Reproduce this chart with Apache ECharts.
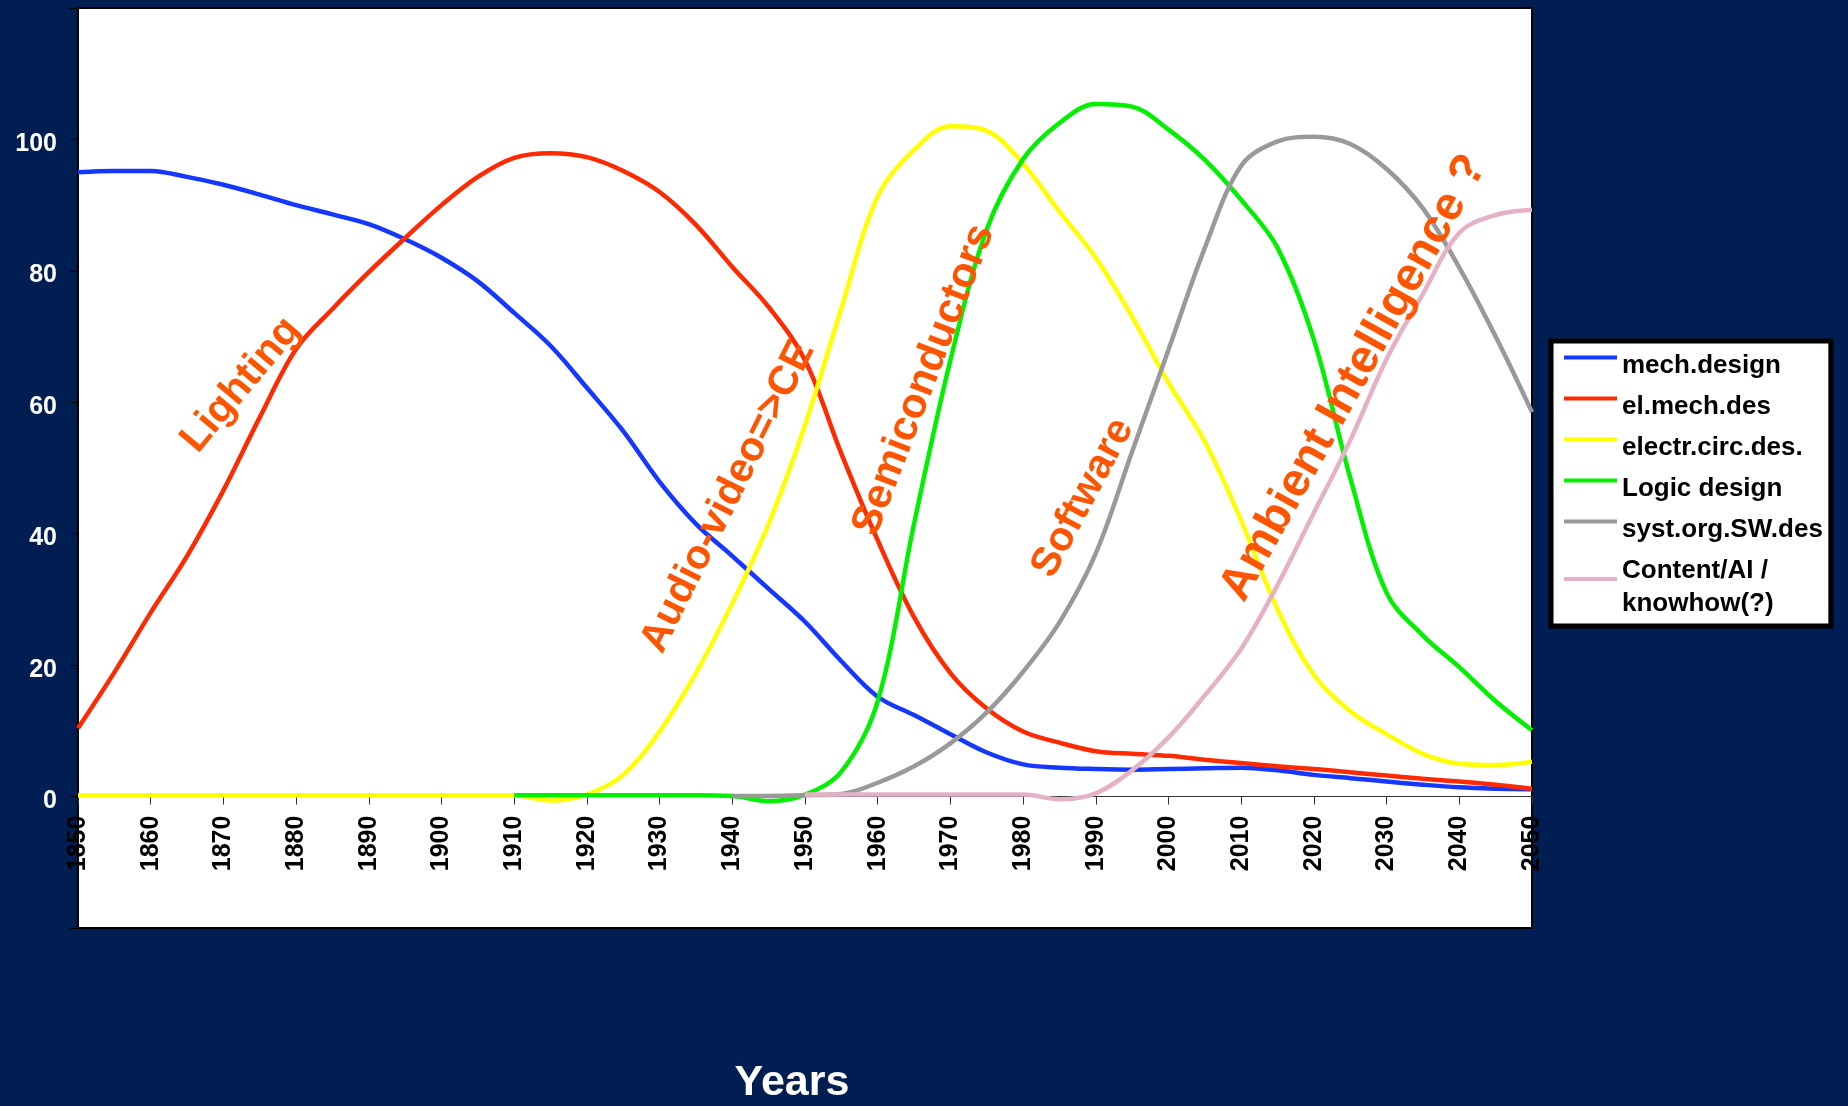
<!DOCTYPE html>
<html>
<head>
<meta charset="utf-8">
<title>Design disciplines over time</title>
<script src="https://cdn.jsdelivr.net/npm/echarts@6/dist/echarts.min.js"></script>
<style>
  html, body { margin: 0; padding: 0; background: #001e52; }
  #chart { width: 1848px; height: 1106px; }
</style>
</head>
<body>
<div id="chart"></div>
<script>
// years sampled every 5 years
const YEARS = [1850, 1855, 1860, 1865, 1870, 1875, 1880, 1885, 1890, 1895,
  1900, 1905, 1910, 1915, 1920, 1925, 1930, 1935, 1940, 1945,
  1950, 1955, 1960, 1965, 1970, 1975, 1980, 1985, 1990, 1995,
  2000, 2005, 2010, 2015, 2020, 2025, 2030, 2035, 2040, 2045, 2050];

const SERIES_NAMES = ["mech.design", "el.mech.des", "electr.circ.des.", "Logic design",
  "syst.org.SW.des", "Content/AI /\nknowhow(?)"];

const mechDesign = [95.0, 95.2, 95.2, 94.3, 93.1, 91.6, 90.0, 88.6, 87.1, 84.8,
  82.0, 78.4, 73.6, 68.6, 62.2, 55.6, 47.9, 41.5, 36.6, 31.6,
  26.6, 20.6, 15.2, 12.4, 9.5, 6.7, 4.9, 4.4, 4.2, 4.1,
  4.2, 4.3, 4.4, 4.0, 3.3, 2.8, 2.3, 1.8, 1.4, 1.2, 1.1];

const elMechDes = [10.4, 18.9, 28.0, 36.6, 46.6, 57.7, 68.1, 74.2, 79.8, 85.0,
  90.0, 94.3, 97.2, 97.9, 97.3, 95.2, 92.0, 87.0, 80.6, 74.5,
  66.4, 52.2, 39.0, 27.3, 18.8, 13.4, 9.9, 8.2, 6.9, 6.5,
  6.2, 5.6, 5.1, 4.6, 4.2, 3.7, 3.2, 2.7, 2.3, 1.8, 1.2];

const electrCircDes = [0.2, 0.2, 0.2, 0.2, 0.2, 0.2, 0.2, 0.2, 0.2, 0.2,
  0.2, 0.2, 0.2, -0.6, 0.3, 3.3, 9.9, 18.8, 29.4, 41.5,
  56.5, 74.3, 91.3, 98.4, 102.0, 101.3, 96.3, 89.0, 82.0, 73.0,
  63.0, 54.0, 42.0, 28.5, 18.5, 13.0, 9.5, 6.5, 5.0, 4.8, 5.3];

const logicDesign = [null, null, null, null, null, null, null, null, null, null,
  null, null, 0.2, 0.2, 0.2, 0.2, 0.2, 0.2, 0.1, -0.7,
  0.3, 3.8, 14.5, 41.5, 66.4, 86.3, 97.0, 102.5, 105.4, 105.0,
  101.5, 96.9, 90.8, 83.5, 69.5, 48.5, 31.0, 24.5, 19.7, 14.5, 10.1];

const systOrgSW = [null, null, null, null, null, null, null, null, null, null,
  null, null, null, null, null, null, null, null, 0.1, 0.1,
  0.2, 0.4, 2.1, 4.6, 8.1, 12.8, 19.0, 26.5, 37.0, 52.5,
  68.0, 83.5, 96.0, 99.7, 100.4, 99.3, 95.5, 89.5, 80.5, 70.0, 58.5];

const contentAI = [null, null, null, null, null, null, null, null, null, null,
  null, null, null, null, null, null, null, null, null, null,
  0.3, 0.3, 0.3, 0.3, 0.3, 0.3, 0.3, -0.4, 0.5, 4.0,
  9.0, 15.4, 22.5, 32.2, 43.2, 54.2, 66.6, 76.5, 85.8, 88.5, 89.3];

const Y_TICKS = [0, 20, 40, 60, 80, 100];

// era labels drawn over the plot
const ERAS = [
  { text: "Lighting", x: 241, y: 385, angle: 50, size: 41 },
  { text: "Audio-video=>CE", x: 728, y: 497, angle: 63.5, size: 41 },
  { text: "Semiconductors", x: 924, y: 380, angle: 69, size: 42 },
  { text: "Software", x: 1083, y: 498, angle: 62, size: 41 },
  { text: "Ambient Intelligence ?", x: 1354, y: 378, angle: 61, size: 47 },
];

const COLORS = ["#1438ff", "#ff2a00", "#ffff00", "#00f000", "#999999", "#e4b1c6"];
const FONT = "'Liberation Sans', Arial, sans-serif";

function pairs(values) {
  const out = [];
  values.forEach((v, i) => {
    if (v !== null) out.push([YEARS[i], v]);
  });
  return out;
}

const seriesValues = [mechDesign, elMechDes, electrCircDes, logicDesign, systOrgSW, contentAI];

const chart = echarts.init(document.getElementById("chart"));

const gridTop = 8;
const gridBottom = 178;
const plotHeight = 1106 - gridTop - gridBottom;
// x axis sits on the value 0 line, 20 units above the bottom of the plot box
const zeroOffset = -plotHeight * 20 / 140;

const option = {
  backgroundColor: "#001e52",
  animation: false,
  grid: {
    left: 78,
    right: 316,
    top: gridTop,
    bottom: gridBottom,
    outerBoundsMode: "none",
    show: true,
    backgroundColor: "#ffffff",
    borderColor: "#000000",
    borderWidth: 2,
  },
  legend: {
    orient: "vertical",
    left: 1551,
    top: 341,
    padding: [8, 8, 6, 13],
    itemGap: 8,
    itemWidth: 53,
    itemHeight: 20,
    icon: "path://M0,0H53V4H0Z M0,20L53,20",
    itemStyle: { borderWidth: 0 },
    backgroundColor: "#ffffff",
    borderColor: "#000000",
    borderWidth: 5,
    data: SERIES_NAMES,
    textStyle: {
      color: "#000000",
      fontSize: 26,
      fontWeight: "bold",
      fontFamily: FONT,
      lineHeight: 33,
    },
  },
  xAxis: {
    type: "value",
    min: 1850,
    max: 2050,
    interval: 10,
    offset: zeroOffset,
    name: "Years",
    nameLocation: "middle",
    nameGap: 265,
    nameMoveOverlap: false,
    nameTextStyle: {
      color: "#ffffff",
      fontSize: 43,
      fontWeight: "bold",
      fontFamily: FONT,
      padding: [0, 26, 0, 0],
    },
    splitLine: { show: false },
    axisLine: { onZero: false, lineStyle: { color: "#333333", width: 1 } },
    axisTick: { show: true, length: 8, lineStyle: { color: "#333333" } },
    axisLabel: {
      rotate: 90,
      margin: 19,
      color: "#000000",
      fontSize: 25,
      fontWeight: "bold",
      fontFamily: FONT,
      showMinLabel: true,
      showMaxLabel: true,
      formatter: (v) => String(v),
    },
  },
  yAxis: {
    type: "value",
    min: -20,
    max: 120,
    interval: 20,
    splitLine: { show: false },
    axisLine: { show: true, onZero: false, lineStyle: { color: "#000000", width: 2 } },
    axisTick: { show: true, length: 8, lineStyle: { color: "#000000" } },
    axisLabel: {
      margin: 21,
      verticalAlign: "top",
      lineHeight: 9,
      color: "#ffffff",
      fontSize: 25,
      fontWeight: "bold",
      fontFamily: FONT,
      formatter: (v) => (Y_TICKS.indexOf(v) >= 0 ? String(v) : ""),
    },
  },
  series: SERIES_NAMES.map((name, i) => ({
    name: name,
    type: "line",
    smooth: 0.35,
    showSymbol: false,
    color: COLORS[i],
    lineStyle: { width: 4.5, color: COLORS[i] },
    data: pairs(seriesValues[i]),
    z: 2 + i,
  })),
  graphic: ERAS.map((e) => ({
    type: "text",
    x: e.x,
    y: e.y,
    rotation: (e.angle * Math.PI) / 180,
    z: 100,
    style: {
      text: e.text,
      fill: "#ff5500",
      font: "bold " + e.size + "px " + FONT,
      align: "center",
      verticalAlign: "middle",
    },
  })),
};

chart.setOption(option);
</script>
</body>
</html>
